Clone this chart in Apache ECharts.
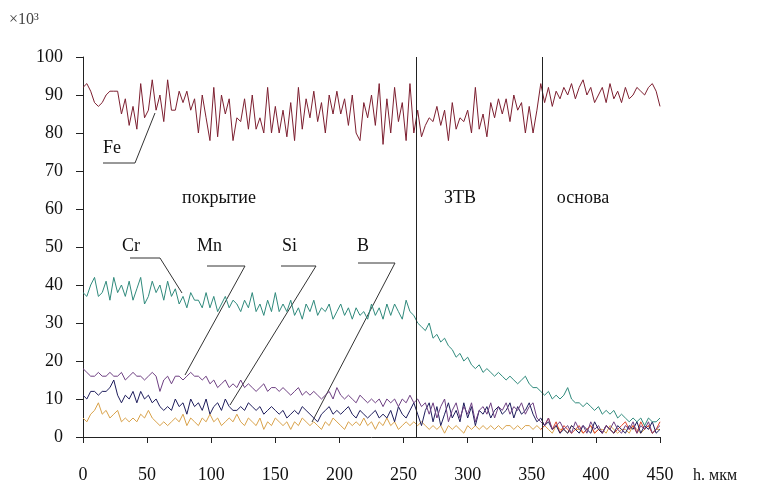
<!DOCTYPE html>
<html>
<head>
<meta charset="utf-8">
<script src="https://cdn.jsdelivr.net/npm/echarts@6/dist/echarts.min.js"></script>
<style>
  html, body { margin: 0; padding: 0; background: #fff; }
  #chart { width: 760px; height: 486px; }
</style>
</head>
<body>
<div id="chart"></div>
<script>
// depth step of the profile, мкм
var STEP = 3;
var xTicks = [0, 50, 100, 150, 200, 250, 300, 350, 400, 450];
var yTicks = [0, 10, 20, 30, 40, 50, 60, 70, 80, 90, 100];
var zoneBounds = [259.7, 358];

var feValues = [
  92, 93, 91, 88, 87, 88, 90, 91, 91, 91,
  85, 89, 82, 87, 81, 93, 84, 86, 94, 86,
  90, 83, 94, 86, 86, 91, 88, 91, 86, 89,
  80, 90, 84, 78, 92, 79, 90, 85, 89, 78,
  84, 83, 89, 81, 90, 81, 84, 80, 92, 80,
  87, 80, 86, 79, 88, 78, 92, 81, 89, 84,
  91, 83, 88, 80, 90, 85, 91, 85, 89, 82,
  90, 80, 78, 88, 84, 90, 82, 93, 77, 89,
  80, 92, 83, 88, 78, 93, 80,
  86, 79, 82, 84, 83, 87, 82, 86, 78, 88,
  81, 84, 83, 86, 80, 92, 81, 85, 79, 88,
  84, 89, 85, 89, 83, 90, 86, 88, 80, 87, 80, 86,
  93, 88, 92, 87, 91, 89, 92, 90, 93, 89,
  92, 94, 90, 92, 88, 90, 92, 88, 93, 89,
  91, 88, 92, 89, 90, 92, 91, 90, 92, 93, 91, 87
];
var crValues = [
  38, 37, 40, 42, 37, 38, 41, 36, 42, 38,
  40, 37, 41, 36, 39, 42, 35, 37, 41, 38,
  40, 36, 41, 37, 39, 35, 37, 34, 38, 36,
  36, 34, 38, 34, 37, 33, 35, 37, 34, 36,
  35, 33, 36, 34, 38, 33, 35, 32, 36, 33,
  38, 33, 35, 33, 36, 32, 34, 31, 35, 33,
  36, 32, 34, 33, 35, 31, 33, 35, 32, 34,
  31, 34, 32, 33, 31, 35, 32, 34, 31, 35,
  32, 35, 33, 31, 36, 33, 32,
  30, 29, 28, 30, 26, 27, 25, 26, 24, 23,
  21, 22, 20, 21, 19, 18, 19, 17, 18, 17,
  16, 17, 16, 15, 16, 15, 14, 15, 16, 14, 13, 13,
  12, 11, 12, 10, 11, 10, 11, 13, 10, 9,
  9, 8, 9, 8, 7, 8, 6, 7, 6, 7,
  5, 6, 5, 4, 5, 4, 5, 3, 5, 4, 4, 5
];
var mnValues = [
  18, 17, 16, 16, 17, 16, 16, 17, 16, 16,
  17, 15, 16, 17, 16, 16, 15, 16, 17, 16,
  12, 15, 16, 14, 16, 16, 15, 16, 17, 16,
  16, 15, 16, 14, 15, 13, 14, 15, 13, 14,
  13, 15, 13, 14, 13, 12, 13, 14, 12, 13,
  13, 12, 13, 12, 11, 12, 13, 11, 12, 11,
  12, 11, 10, 11, 12, 10, 13, 11, 10, 11,
  10, 9, 11, 10, 9, 10, 9, 10, 8, 10,
  9, 10, 8, 10, 9, 11, 9,
  10, 8, 9, 6, 9, 5, 8, 10, 4, 7,
  9, 5, 8, 6, 9, 4, 7, 8, 6, 9,
  5, 8, 7, 9, 6, 8, 7, 9, 6, 8, 9, 5,
  4, 3, 5, 2, 3, 4, 2, 3, 1, 4,
  2, 3, 1, 4, 2, 3, 1, 3, 2, 4,
  2, 1, 3, 2, 4, 1, 3, 2, 4, 1, 2, 3
];
var siValues = [
  11, 10, 12, 12, 11, 12, 12, 13, 15, 11,
  9, 11, 10, 12, 9, 12, 10, 11, 9, 10,
  8, 7, 8, 7, 10, 8, 9, 6, 10, 8,
  9, 7, 10, 6, 8, 9, 7, 10, 8, 7,
  7, 8, 7, 9, 8, 7, 8, 6, 7, 8,
  7, 6, 7, 5, 6, 7, 6, 8, 7, 6,
  5, 4, 6, 7, 8, 6, 7, 6, 7, 8,
  6, 5, 7, 6, 5, 6, 7, 5, 6, 5,
  7, 4, 8, 6, 5, 7, 9,
  6, 3, 7, 9, 4, 8, 3, 6, 9, 5,
  7, 4, 9, 5, 8, 3, 7, 6, 8, 5,
  7, 8, 6, 7, 9, 5, 8, 6, 7, 9, 6, 4,
  5, 3, 4, 2, 3, 1, 2, 1, 3, 2,
  1, 3, 2, 1, 4, 2, 1, 3, 2, 1,
  3, 2, 1, 3, 2, 4, 1, 3, 2, 4, 1, 2
];
var bValues = [
  5, 4, 6, 7, 9, 6, 7, 5, 6, 7,
  4, 5, 4, 5, 4, 6, 5, 7, 5, 4,
  3, 4, 3, 4, 5, 4, 6, 3, 5, 4,
  3, 5, 4, 6, 4, 5, 3, 4, 5, 4,
  6, 4, 3, 5, 4, 3, 5, 2, 4, 3,
  5, 4, 3, 4, 2, 4, 3, 5, 4, 3,
  4, 3, 2, 4, 3, 5, 4, 3, 2, 4,
  3, 4, 3, 5, 3, 4, 2, 4, 3, 5,
  3, 4, 2, 3, 4, 3, 4,
  3, 4, 3, 2, 3, 2, 3, 1, 3, 2,
  3, 2, 1, 3, 2, 3, 2, 3, 2, 3,
  2, 3, 2, 3, 3, 2, 3, 2, 3, 3, 2, 3,
  2, 3, 2, 1, 3, 2, 2, 1, 3, 2,
  2, 1, 2, 3, 1, 2, 2, 1, 3, 2,
  1, 2, 2, 1, 3, 2, 1, 2, 3, 1, 2, 2
];
// unlabeled red trace, visible only in the base metal
var redStart = 357;
var redValues = [
  2, 3, 5, 2, 4, 1, 3, 2, 1, 2,
  3, 1, 2, 3, 1, 2, 1, 3, 2, 1,
  2, 3, 4, 2, 3, 1, 4, 2, 3, 1,
  2, 4
];

function toPairs(vals, start) {
  return vals.map(function (v, i) { return [start + i * STEP, v]; });
}

var serif = "'Liberation Serif', 'DejaVu Serif', serif";

function lineSeries(name, vals, start, color) {
  return {
    name: name,
    type: 'line',
    data: toPairs(vals, start),
    showSymbol: false,
    lineStyle: { color: color, width: 1 },
    itemStyle: { color: color },
    z: 3
  };
}

var series = [
  lineSeries('B', bValues, 0, '#d9a24a'),
  lineSeries('red', redValues, redStart, '#e0442a'),
  lineSeries('Si', siValues, 0, '#1e1d5c'),
  lineSeries('Mn', mnValues, 0, '#6e3f82'),
  lineSeries('Cr', crValues, 0, '#2f8a7c'),
  lineSeries('Fe', feValues, 0, '#7d1f30')
];
series[5].markLine = {
  symbol: 'none',
  silent: true,
  label: { show: false },
  lineStyle: { color: '#222', width: 1, type: 'solid' },
  data: zoneBounds.map(function (b) { return { xAxis: b }; })
};

function txt(x, y, s, size, align, color) {
  return {
    type: 'text', x: x, y: y,
    style: {
      text: s, font: size + 'px ' + serif, fill: color || '#111',
      textAlign: align || 'left', textVerticalAlign: 'middle'
    }
  };
}
function leader(points) {
  return {
    type: 'polyline',
    shape: { points: points },
    style: { stroke: '#333', lineWidth: 1, fill: null }
  };
}

var chart = echarts.init(document.getElementById('chart'));
chart.setOption({
  animation: false,
  backgroundColor: '#fff',
  grid: { left: 83, right: 100, top: 57, bottom: 49 },
  xAxis: {
    type: 'value',
    min: xTicks[0],
    max: xTicks[xTicks.length - 1],
    interval: 50,
    axisLine: { lineStyle: { color: '#222', width: 1 } },
    axisTick: { show: true, length: 6, lineStyle: { color: '#222' } },
    axisLabel: { color: '#111', fontFamily: serif, fontSize: 18, margin: 29 },
    splitLine: { show: false }
  },
  yAxis: {
    type: 'value',
    min: yTicks[0],
    max: yTicks[yTicks.length - 1],
    interval: 10,
    axisLine: { show: true, lineStyle: { color: '#222', width: 1 } },
    axisTick: { show: true, length: 7, lineStyle: { color: '#222' } },
    axisLabel: { color: '#111', fontFamily: serif, fontSize: 18, margin: 20 },
    splitLine: { show: false }
  },
  graphic: [
    txt(9, 20, '×10³', 16, 'left', '#444'),
    txt(693, 476, 'h. мкм', 16, 'left'),
    txt(219, 198, 'покрытие', 18, 'center'),
    txt(460, 198, 'ЗТВ', 18, 'center'),
    txt(583, 198, 'основа', 18, 'center'),
    txt(103, 148, 'Fe', 18, 'left'),
    txt(122, 246, 'Cr', 18, 'left'),
    txt(197, 246, 'Mn', 18, 'left'),
    txt(282, 246, 'Si', 18, 'left'),
    txt(357, 246, 'B', 18, 'left'),
    leader([[103, 163], [135, 163], [155, 113]]),
    leader([[130, 258], [160, 258], [182, 293]]),
    leader([[207, 266], [245, 266], [185, 375]]),
    leader([[281, 266], [316, 266], [230, 405]]),
    leader([[358, 263], [395, 263], [312, 422]])
  ],
  series: series
});
</script>
</body>
</html>
